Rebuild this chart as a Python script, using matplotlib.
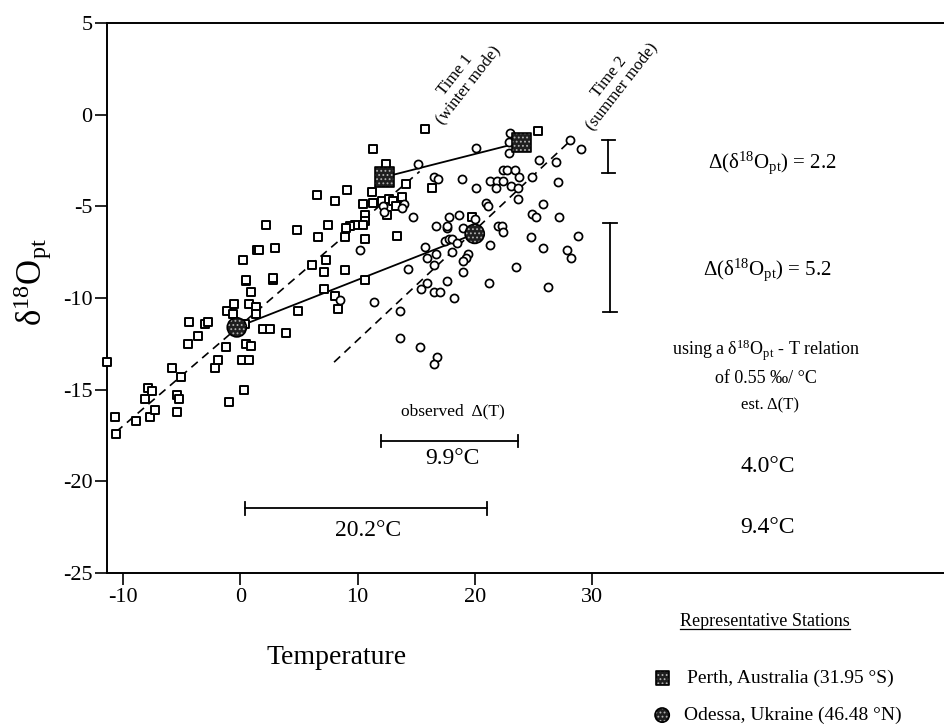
import matplotlib
matplotlib.use('Agg')
import matplotlib.pyplot as plt
from matplotlib.lines import Line2D

plt.rcParams['font.family'] = ['Liberation Serif', 'DejaVu Serif']
plt.rcParams['mathtext.fontset'] = 'custom'
plt.rcParams['mathtext.rm'] = 'Liberation Serif'
plt.rcParams['mathtext.it'] = 'Liberation Serif:italic'
plt.rcParams['mathtext.bf'] = 'Liberation Serif:bold'
plt.rcParams['hatch.linewidth'] = 0.8

# ---------------- data ----------------
# Time 1 (winter mode) stations: temperature, d18O
winter_T = [-11.4, -10.7, -10.6, -8.9, -7.7, -7.3, -7.9, -8.1, -7.5, -5.8, -5.1, -5.4, -5.2, -5.4,
            -4.5, -4.4, -3.6, -3.0, -2.8, -2.2, -1.9, -1.2, -1.0, -1.1, -0.6, -0.5, 0.3, 0.1, 0.7,
            0.5, 0.9, 0.4, 0.7, 1.3, 1.3, 0.9, 0.5, 2.8, 1.9, 2.5, 3.9, 4.9, 6.5, 2.2, 4.8, 6.6,
            1.4, 1.6, 3.0, 0.2, 0.5, 2.8, 6.1, 7.5, 7.3, 7.1, 7.1, 15.8, 11.3, 12.4, 14.1, 16.4,
            9.1, 11.2, 8.1, 10.5, 11.3, 12.1, 12.7, 13.0, 13.8, 13.3, 12.5, 10.6, 10.6, 10.5, 9.8,
            9.4, 9.0, 8.9, 10.6, 13.4, 25.4, 8.9, 10.6, 8.1, 8.3, 19.8]
winter_d = [-13.5, -16.5, -17.4, -16.7, -16.5, -16.1, -14.9, -15.5, -15.1, -13.8, -14.3, -15.3, -15.5, -16.2,
            -12.5, -11.3, -12.1, -11.4, -11.3, -13.8, -13.4, -12.7, -15.7, -10.7, -10.9, -10.3, -15.0, -13.4, -13.4,
            -12.5, -12.6, -11.4, -10.3, -10.5, -10.9, -9.7, -9.1, -9.0, -11.7, -11.7, -11.9, -10.7, -4.4, -6.0, -6.3, -6.7,
            -7.4, -7.4, -7.3, -7.9, -9.0, -8.9, -8.2, -6.0, -7.9, -8.6, -9.5, -0.8, -1.9, -2.7, -3.8, -4.0,
            -4.1, -4.2, -4.7, -4.9, -4.8, -4.7, -4.6, -4.7, -4.5, -5.0, -5.5, -5.5, -5.8, -6.0, -6.0,
            -6.1, -6.2, -6.7, -6.8, -6.6, -0.9, -8.5, -9.0, -9.9, -10.6, -5.6]

# Time 2 (summer mode) stations
summer_T = [15.2, 16.5, 16.9, 14.0, 13.8, 12.2, 12.3, 14.7, 10.2, 23.0, 22.9, 22.9, 20.1, 28.1, 29.1,
            25.5, 26.9, 22.4, 22.8, 23.4, 23.8, 24.9, 21.3, 21.9, 22.4, 18.9, 27.1, 20.1, 21.8, 23.1,
            23.7, 23.7, 21.0, 21.1, 25.8, 24.9, 25.2, 27.2, 18.7, 17.8, 16.7, 17.6, 17.6, 19.0, 22.0,
            22.3, 22.4, 28.8, 17.5, 17.8, 18.1, 18.5, 21.3, 24.8, 25.8, 27.9, 28.2, 16.7, 18.1, 19.4,
            19.3, 19.0, 16.5, 19.0, 23.5, 17.6, 21.2, 26.3, 16.5, 17.0, 18.2, 15.8, 15.9, 14.3, 15.9,
            15.4, 11.4, 13.6, 8.5, 13.6, 15.3, 20.0, 16.8, 16.5]
summer_d = [-2.7, -3.4, -3.5, -4.9, -5.1, -5.0, -5.3, -5.6, -7.4, -1.0, -1.5, -2.1, -1.8, -1.4, -1.9,
            -2.5, -2.6, -3.0, -3.0, -3.0, -3.4, -3.4, -3.6, -3.6, -3.6, -3.5, -3.7, -4.0, -4.0, -3.9,
            -4.0, -4.6, -4.8, -5.0, -4.9, -5.4, -5.6, -5.6, -5.5, -5.6, -6.1, -6.2, -6.1, -6.2, -6.1,
            -6.1, -6.4, -6.6, -6.9, -6.8, -6.8, -7.0, -7.1, -6.7, -7.3, -7.4, -7.8, -7.6, -7.5, -7.6,
            -7.8, -8.0, -8.2, -8.6, -8.3, -9.1, -9.2, -9.4, -9.7, -9.7, -10.0, -7.2, -7.8, -8.4, -9.2,
            -9.5, -10.2, -10.7, -10.1, -12.2, -12.7, -5.7, -13.2, -13.6]

# representative stations (winter, summer)
perth_T = [12.3, 24.0]
perth_d = [-3.4, -1.5]
odessa_T = [-0.3, 20.0]
odessa_d = [-11.6, -6.5]

# regression lines (end points)
time1_T = [-10.6, 15.3]
time1_d = [-17.3, -3.1]
time2_T = [8.0, 28.2]
time2_d = [-13.5, -1.4]

x_ticks = [-10, 0, 10, 20, 30]
x_tick_labels = ['-10', '0', '10', '20', '30']
y_ticks = [-25, -20, -15, -10, -5, 0, 5]
y_tick_labels = ['-25', '-20', '-15', '-10', '-5', '0', '5']

# annotation values
dd_perth = 2.2
dd_odessa = 5.2
obs_dT = [9.9, 20.2]
est_dT = [4.0, 9.4]
slope_rel = 0.55

# ---------------- figure ----------------
W, H = 945, 727
fig = plt.figure(figsize=(W / 100, H / 100), dpi=100)
ax = fig.add_axes([107 / W, (H - 573) / H, 1 - 107 / W, (573 - 23) / H])
ax.set_xlim(-11.38, 60.14)
ax.set_ylim(-25, 5)
ax.spines['right'].set_visible(False)
for s in ['left', 'top', 'bottom']:
    ax.spines[s].set_linewidth(1.4)
ax.set_xticks(x_ticks)
ax.set_xticklabels(x_tick_labels)
ax.set_yticks(y_ticks)
ax.set_yticklabels(y_tick_labels)
ax.tick_params(direction='out', length=8.5, width=1.2, labelsize=16, pad=2)

d18 = 'δ$^{18}$O$_{\\mathrm{pt}}$'

# lines
dash = (0, (5, 3.5))
ax.plot(time1_T, time1_d, color='black', lw=1.2, linestyle=dash, zorder=2)
ax.plot(time2_T, time2_d, color='black', lw=1.2, linestyle=dash, zorder=2)
ax.plot(perth_T, perth_d, color='black', lw=1.3, zorder=2)
ax.plot(odessa_T, odessa_d, color='black', lw=1.3, zorder=2)

# scatter
ax.scatter(winter_T, winter_d, marker='s', s=40, facecolor='white', edgecolor='black',
           linewidths=1.4, zorder=3, clip_on=False)
ax.scatter(summer_T, summer_d, marker='o', s=34, facecolor='white', edgecolor='black',
           linewidths=1.25, zorder=3)


def stippled(xs, ys, marker, size, clip=True):
    ax.scatter(xs, ys, marker=marker, s=size, facecolor='#1e1e1e', edgecolor='#b0b0b0',
               linewidths=0, hatch='....', zorder=5, clip_on=clip)
    ax.scatter(xs, ys, marker=marker, s=size, facecolor='none', edgecolor='black',
               linewidths=1.2, zorder=6, clip_on=clip)


# stations
stippled(perth_T, perth_d, 's', 190)
stippled(odessa_T, odessa_d, 'o', 190)

# labels for the two modes
ax.text(18.9, 1.9, 'Time 1\n(winter mode)', rotation=52, ha='center', va='center',
        fontsize=12, linespacing=1.0, rotation_mode='anchor')
ax.text(32.0, 1.8, 'Time 2\n(summer mode)', rotation=52, ha='center', va='center',
        fontsize=12, linespacing=1.0, rotation_mode='anchor')


# brackets for differences
def vbracket(x, y0, y1, cap=0.55):
    ax.plot([x, x], [y0, y1], color='black', lw=1.3, clip_on=False)
    ax.plot([x - cap, x + cap], [y0, y0], color='black', lw=1.3, clip_on=False)
    ax.plot([x - cap, x + cap], [y1, y1], color='black', lw=1.3, clip_on=False)


def hbracket(y, x0, x1, cap=0.35):
    ax.plot([x0, x1], [y, y], color='black', lw=1.3, clip_on=False)
    ax.plot([x0, x0], [y - cap, y + cap], color='black', lw=1.3, clip_on=False)
    ax.plot([x1, x1], [y - cap, y + cap], color='black', lw=1.3, clip_on=False)


vbracket(31.4, -1.38, -3.18)
vbracket(31.55, -5.91, -10.76, cap=0.6)
hbracket(-17.8, 12.0, 23.7)
hbracket(-21.46, 0.4, 21.05)

ax.text(45.4, -2.64, 'Δ(' + d18 + ') = %.1f' % dd_perth, ha='center', va='center', fontsize=15)
ax.text(45.0, -8.48, 'Δ(' + d18 + ') = %.1f' % dd_odessa, ha='center', va='center', fontsize=15)
ax.text(44.9, -12.84, 'using a ' + d18 + ' - T relation', ha='center', va='center', fontsize=13)
ax.text(44.9, -14.37, 'of %.2f ‰/ °C' % slope_rel, ha='center', va='center', fontsize=13)
ax.text(45.2, -15.84, 'est. Δ(T)', ha='center', va='center', fontsize=12)
ax.text(45.0, -19.2, '%.1f°C' % est_dT[0], ha='center', va='center', fontsize=17)
ax.text(45.0, -22.5, '%.1f°C' % est_dT[1], ha='center', va='center', fontsize=17)

ax.text(18.1, -16.2, 'observed  Δ(T)', ha='center', va='center', fontsize=12.5)
ax.text(18.1, -18.75, '%.1f°C' % obs_dT[0], ha='center', va='center', fontsize=17)
ax.text(10.9, -22.66, '%.1f°C' % obs_dT[1], ha='center', va='center', fontsize=17)

# axis labels
fig.text(337 / W, 1 - 657 / H, 'Temperature', ha='center', va='center', fontsize=20)
fig.text(33 / W, 1 - 282 / H, d18, ha='center', va='center', fontsize=25, rotation=90)

# legend of representative stations
rep = fig.text(680 / W, 1 - 622 / H, 'Representative Stations', ha='left', va='center', fontsize=13)
stippled([36.0], [-30.73], 's', 90, clip=False)
stippled([36.0], [-32.75], 'o', 105, clip=False)
fig.text(687 / W, 1 - 678 / H, 'Perth, Australia (31.95 °S)', ha='left', va='center', fontsize=14)
fig.text(684 / W, 1 - 715 / H, 'Odessa, Ukraine (46.48 °N)', ha='left', va='center', fontsize=14)

fig.canvas.draw()
bb = rep.get_window_extent()
x0, x1 = bb.x0 / W, bb.x1 / W
yline = (bb.y0 + 2) / H
fig.add_artist(Line2D([x0, x1], [yline, yline], color='black', lw=0.9))

fig.savefig('out.png', dpi=100)
